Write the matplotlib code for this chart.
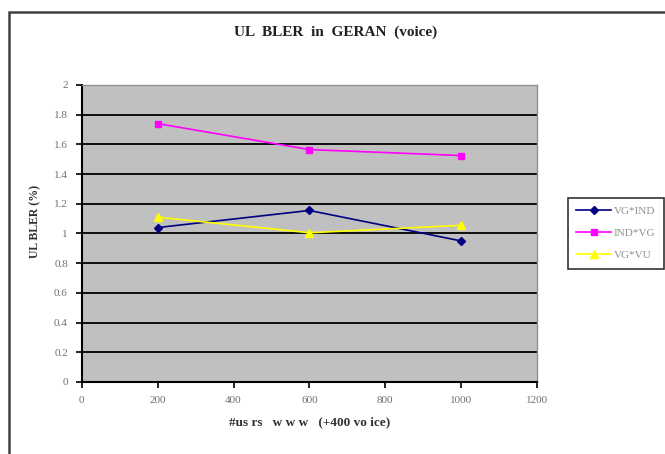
import matplotlib.pyplot as plt
from matplotlib.patches import Rectangle

# Data
users = [200, 600, 1000]
vg_ind = [1.04, 1.155, 0.95]
ind_vg = [1.74, 1.565, 1.525]
vg_vu = [1.11, 1.005, 1.055]

x_ticks = [0, 200, 400, 600, 800, 1000, 1200]
y_ticks = [0, 0.2, 0.4, 0.6, 0.8, 1, 1.2, 1.4, 1.6, 1.8, 2]
y_tick_labels = ['0', '0.2', '0.4', '0.6', '0.8', '1', '1.2', '1.4', '1.6', '1.8', '2']

plt.rcParams['font.family'] = ['Liberation Serif', 'DejaVu Serif']

fig = plt.figure(figsize=(6.65, 4.54), dpi=100)
ax = fig.add_axes([0.123, 0.1586, 0.6845, 0.6542])

# Outer chart frame (runs off the right and bottom edges)
fig.patches.append(Rectangle((9 / 665, -0.05), 1.0, 1 - 12 / 454 + 0.05,
                             transform=fig.transFigure, fill=False,
                             edgecolor='#404040', linewidth=1.8))

ax.set_facecolor('#C0C0C0')

# Plot the three series.
ax.plot(users, vg_ind, color='#000080', marker='D', markersize=4, linewidth=1.2, label='VG*IND')
ax.plot(users, ind_vg, color='#FF00FF', marker='s', markersize=5, linewidth=1.2, label='IND*VG')
ax.plot(users, vg_vu, color='#FFFF00', marker='^', markersize=6, linewidth=1.2, label='VG*VU')

# Axes, ticks and grid
ax.set_xlim(0, 1200)
ax.set_ylim(0, 2)
ax.set_xticks(x_ticks)
ax.set_yticks(y_ticks)
ax.set_yticklabels(y_tick_labels)
ax.yaxis.grid(True, color='black', linewidth=1.3)
ax.set_axisbelow(True)
ax.tick_params(direction='out', length=4, width=1.2, color='black',
               labelsize=8, labelcolor='#707070')
ax.tick_params(axis='x', pad=6)
ax.tick_params(axis='y', pad=6)

for side in ['left', 'bottom']:
    ax.spines[side].set_color('black')
    ax.spines[side].set_linewidth(1.5)
for side in ['top', 'right']:
    ax.spines[side].set_color('#909090')
    ax.spines[side].set_linewidth(1.0)

# Titles & Labels
fig.text(0.505, 0.928, 'UL  BLER  in  GERAN  (voice)', ha='center', va='center',
         fontsize=11, fontweight='bold', color='#202020')
ax.set_xlabel('#us rs   w w w   (+400 vo ice)', fontsize=9.5, fontweight='bold',
              color='#303030', labelpad=8)
ax.set_ylabel('UL BLER (%)', fontsize=8.5, fontweight='bold', color='#303030', labelpad=6)
ax.yaxis.set_label_coords(-0.088, 0.54)

# Legend
leg = ax.legend(loc='center left', bbox_to_anchor=(1.055, 0.5), frameon=True,
                fancybox=False, edgecolor='black', fontsize=8, handlelength=3.2,
                labelspacing=1.1, borderpad=0.75, handletextpad=0.2)
leg.get_frame().set_linewidth(1.2)
for text in leg.get_texts():
    text.set_color('#909090')

fig.savefig('out.png', dpi=100, facecolor='white')
